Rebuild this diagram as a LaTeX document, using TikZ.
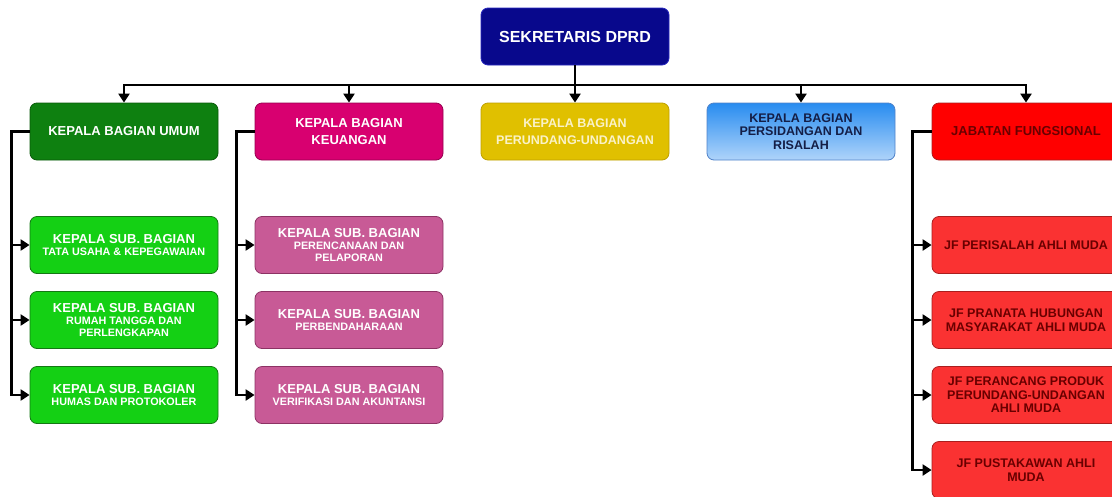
\documentclass[tikz,border=0pt]{standalone}
\usepackage{fontspec}
\setmainfont{Liberation Sans}[BoldFont={Liberation Sans Bold}]
\usetikzlibrary{arrows.meta,shadings}
\definecolor{topblue}{RGB}{8,8,140}
\definecolor{topedge}{RGB}{40,40,190}
\definecolor{gdark}{RGB}{14,128,16}
\definecolor{gdarkedge}{RGB}{10,90,10}
\definecolor{mag}{RGB}{216,0,112}
\definecolor{magedge}{RGB}{150,0,80}
\definecolor{yel}{RGB}{224,192,0}
\definecolor{yeledge}{RGB}{190,160,0}
\definecolor{yeltext}{RGB}{250,242,200}
\definecolor{bluetop}{RGB}{40,140,240}
\definecolor{bluebot}{RGB}{175,212,250}
\definecolor{blueedge}{RGB}{80,130,200}
\definecolor{bluetext}{RGB}{20,30,70}
\definecolor{redA}{RGB}{255,0,0}
\definecolor{redB}{RGB}{250,50,50}
\definecolor{rededge}{RGB}{170,30,30}
\definecolor{redtext}{RGB}{105,0,0}
\definecolor{glight}{RGB}{20,208,20}
\definecolor{glightedge}{RGB}{20,120,20}
\definecolor{pink}{RGB}{200,90,150}
\definecolor{pinkedge}{RGB}{140,50,100}
\tikzset{
  box/.style={rounded corners=7pt, line width=0.8pt, minimum width=188pt, minimum height=57pt,
    align=center, inner sep=1pt, text=white},
  f1/.style={font=\bfseries\fontsize{13}{16.5}\selectfont},
  arr/.style={draw=black, line width=2.8pt, -{Triangle[length=9pt,width=11pt]}},
  bus/.style={draw=black, line width=2.8pt},
}
\newcommand{\sm}{\fontsize{10.8}{13}\selectfont}
\begin{document}
\begin{tikzpicture}[x=1pt,y=-1pt]
\useasboundingbox (0,0) rectangle (1112,496);
\clip (0,0) rectangle (1112,496);
% top
\node[box, fill=topblue, draw=topedge, font=\bfseries\fontsize{16}{18}\selectfont] (top) at (575,36.5) {SEKRETARIS DPRD};
% level 1
\node[box, f1, fill=gdark, draw=gdarkedge] (k1) at (124,131.5) {KEPALA BAGIAN UMUM};
\node[box, f1, fill=mag, draw=magedge] (k2) at (349,131.5) {KEPALA BAGIAN\\KEUANGAN};
\node[box, fill=yel, draw=yeledge, text=yeltext, font=\bfseries\fontsize{12.5}{16.5}\selectfont] (k3) at (575,131.5) {KEPALA BAGIAN\\PERUNDANG-UNDANGAN};
\node[box, draw=blueedge, top color=bluetop, bottom color=bluebot, text=bluetext, font=\bfseries\fontsize{12.5}{13.5}\selectfont] (k4) at (801,131.5) {KEPALA BAGIAN\\PERSIDANGAN DAN\\RISALAH};
\node[box, f1, fill=redA, draw=rededge, text=redtext] (k5) at (1026,131.5) {JABATAN FUNGSIONAL};
% green subs
\tikzset{gs/.style={box, fill=glight, draw=glightedge, font=\bfseries\fontsize{13}{14}\selectfont}}
\node[gs] (g1) at (124,245) {KEPALA SUB. BAGIAN\\[-2pt]{\sm TATA USAHA \& KEPEGAWAIAN}};
\node[gs] (g2) at (124,320) {KEPALA SUB. BAGIAN\\[-2pt]{\sm RUMAH TANGGA DAN}\\[-2pt]{\sm PERLENGKAPAN}};
\node[gs] (g3) at (124,395) {KEPALA SUB. BAGIAN\\[-2pt]{\sm HUMAS DAN PROTOKOLER}};
% pink subs
\tikzset{ps/.style={box, fill=pink, draw=pinkedge, font=\bfseries\fontsize{13}{14}\selectfont}}
\node[ps] (p1) at (349,245) {KEPALA SUB. BAGIAN\\[-2pt]{\sm PERENCANAAN DAN}\\[-2pt]{\sm PELAPORAN}};
\node[ps] (p2) at (349,320) {KEPALA SUB. BAGIAN\\[-2pt]{\sm PERBENDAHARAAN}};
\node[ps] (p3) at (349,395) {KEPALA SUB. BAGIAN\\[-2pt]{\sm VERIFIKASI DAN AKUNTANSI}};
% red subs
\tikzset{rs/.style={box, fill=redB, draw=rededge, text=redtext, font=\bfseries\fontsize{12.5}{13.5}\selectfont}}
\node[rs] (r1) at (1026,245) {JF PERISALAH AHLI MUDA};
\node[rs] (r2) at (1026,320) {JF PRANATA HUBUNGAN\\MASYARAKAT AHLI MUDA};
\node[rs] (r3) at (1026,395) {JF PERANCANG PRODUK\\PERUNDANG-UNDANGAN\\AHLI MUDA};
\node[rs] (r4) at (1026,470) {JF PUSTAKAWAN AHLI\\MUDA};
% top connectors
\coordinate (busL) at (124,85);
\coordinate (busR) at (1026,85);
\draw[bus] (top.south) -- (top.south |- busL);
\draw[bus, line cap=rect] (busL) -- (busR);
\draw[arr] (busL) -- (k1.north);
\draw[arr] (k2.north |- busL) -- (k2.north);
\draw[arr] (top.south) -- (k3.north);
\draw[arr] (k4.north |- busL) -- (k4.north);
\draw[arr] (busR) -- (k5.north);
% side connectors
\foreach \s in {g1,g2,g3} \draw[arr] (k1.west) -- ++(-18,0) |- (\s.west);
\foreach \s in {p1,p2,p3} \draw[arr] (k2.west) -- ++(-18,0) |- (\s.west);
\foreach \s in {r1,r2,r3,r4} \draw[arr] (k5.west) -- ++(-19,0) |- (\s.west);
\end{tikzpicture}
\end{document}
